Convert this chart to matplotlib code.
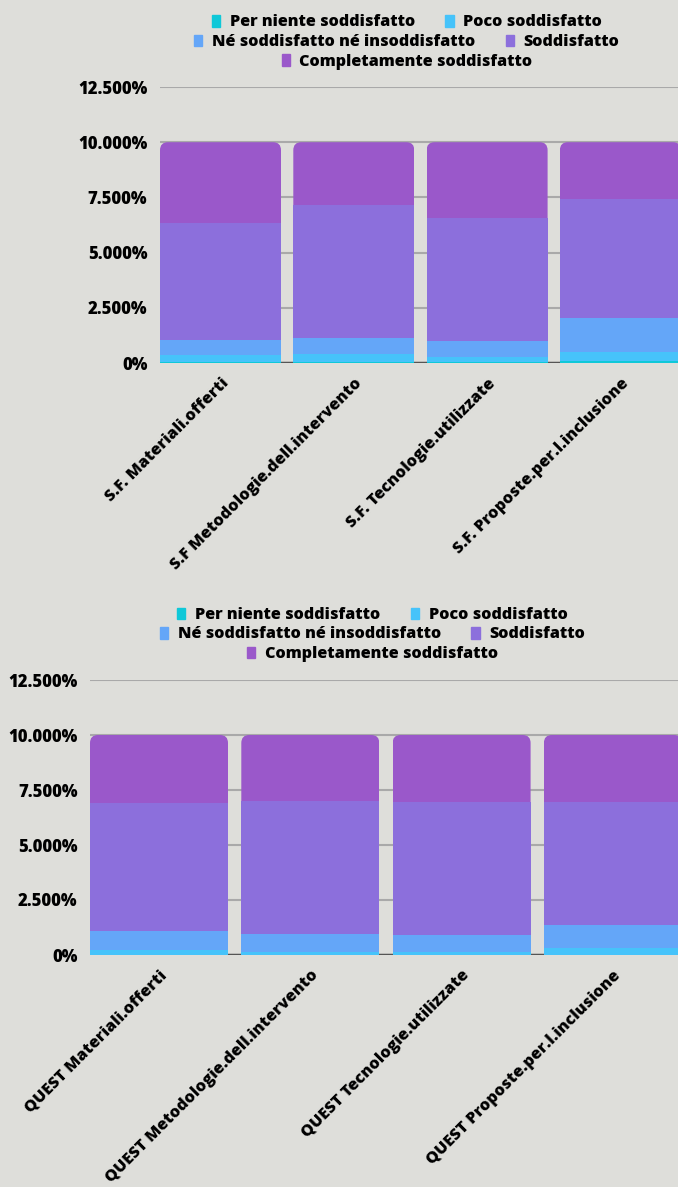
import numpy as np
import matplotlib
matplotlib.use("Agg")
from matplotlib import pyplot as plt
from matplotlib.patches import FancyBboxPatch, Patch
from matplotlib.ticker import FuncFormatter, MultipleLocator

plt.rcParams['font.family'] = ['Open Sans', 'DejaVu Sans']
WT = 800

levels = ["Per niente soddisfatto", "Poco soddisfatto",
          "Né soddisfatto né insoddisfatto", "Soddisfatto",
          "Completamente soddisfatto"]
colors = ["#0fc8d8", "#46c3fa", "#64a6f8", "#8c6fdc", "#9a58ca"]

sf_labels = ["S.F. Materiali.offerti", "S.F Metodologie.dell.intervento",
             "S.F. Tecnologie.utilizzate", "S.F. Proposte.per.l.inclusione"]
sf_values = [
    [0.06, 0.05, 0.05, 0.09],   # per niente
    [0.30, 0.36, 0.22, 0.41],   # poco
    [0.69, 0.73, 0.73, 1.55],   # ne ne
    [5.31, 6.00, 5.55, 5.36],   # soddisfatto
    [3.64, 2.86, 3.45, 2.59],   # completamente
]

quest_labels = ["QUEST Materiali.offerti", "QUEST Metodologie.dell.intervento",
                "QUEST Tecnologie.utilizzate", "QUEST Proposte.per.l.inclusione"]
quest_values = [
    [0.02, 0.02, 0.02, 0.02],
    [0.19, 0.10, 0.10, 0.28],
    [0.87, 0.82, 0.77, 1.05],
    [5.82, 6.06, 6.05, 5.59],
    [3.10, 3.00, 3.06, 3.06],
]

BG = "#dededa"
W, H = 678, 1187
fig = plt.figure(figsize=(W / 100, H / 100), dpi=100, facecolor=BG)


def pct(v, pos):
    return "0%" if v == 0 else f"{v:.3f}%"


def stacked(left, zero_y, top_y, bar_w_px, slot_px, names, vals, legend_cx, legend_rows):
    ax = fig.add_axes([left / W, 1 - zero_y / H, 1 - left / W, (zero_y - top_y) / H])
    ax.set_facecolor(BG)
    x = np.arange(len(names))
    width = bar_w_px / slot_px
    x0 = -width / 2
    ax.set_xlim(x0, x0 + (W - left) / slot_px)
    ax.set_ylim(0, 12.5)
    ax.yaxis.set_major_locator(MultipleLocator(2.5))
    ax.yaxis.set_major_formatter(FuncFormatter(pct))
    ax.grid(axis='y', color="#a9a9a9", linewidth=1.5, zorder=0)
    ax.set_axisbelow(True)
    ax.axhline(0, color="#555555", linewidth=2.5, zorder=1)
    for s in ax.spines.values():
        s.set_visible(False)
    ax.tick_params(length=0, pad=9, labelsize=12)
    ax.set_xticks(x)
    ax.set_xticklabels(names, rotation=45, ha='right', va='top',
                       rotation_mode='anchor', fontsize=11.7)
    for lab in ax.get_xticklabels() + ax.get_yticklabels():
        lab.set_fontweight(WT)

    bottom = np.zeros(len(names))
    conts = []
    for name, v, c in zip(levels, vals, colors):
        v = np.array(v)
        conts.append(ax.bar(x, v, width, bottom=bottom, color=c, label=name,
                            zorder=2, linewidth=0))
        bottom = bottom + v

    # rounded top corners on the last segment
    xr = (W - left) / slot_px
    px_x = (W - left) / xr
    px_y = (zero_y - top_y) / 12.5
    r = 8 / px_x
    asp = (8 / px_y) / r
    for rect, tot, xi in zip(conts[-1], bottom, x):
        clip = FancyBboxPatch((xi - width / 2, 0), width, tot,
                              boxstyle=f"round,pad=0,rounding_size={r}",
                              mutation_aspect=asp, transform=ax.transData)
        rect.set_clip_path(clip)

    handles = [Patch(color=c) for c in colors]
    rows = [(0, 2), (2, 4), (4, 5)]
    for (a, b), ry in zip(rows, legend_rows):
        fig.legend(handles[a:b], levels[a:b], loc='center',
                   bbox_to_anchor=(legend_cx / W, 1 - ry / H),
                   ncol=b - a, frameon=False, handlelength=0.5,
                   handleheight=0.7, handletextpad=0.6, columnspacing=1.9,
                   borderpad=0, prop={'weight': WT, 'size': 11.6})
    return ax


stacked(160, 363, 87, 121, 133.3, sf_labels, sf_values, 407, [22.5, 42, 61.5])
stacked(90, 955, 680, 138, 151.3, quest_labels, quest_values, 372.5, [615, 634.5, 654])

fig.savefig("out.png", dpi=100, facecolor=BG)
